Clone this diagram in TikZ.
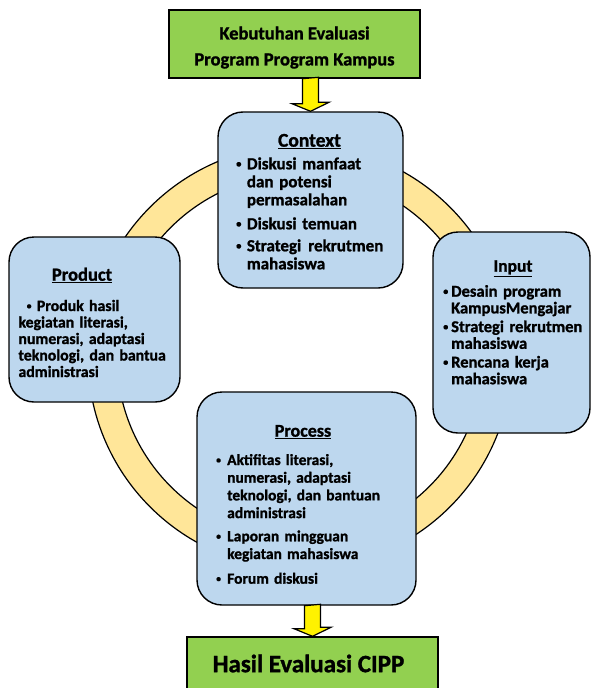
\documentclass[tikz,border=0pt]{standalone}
\usepackage{fontspec}
\usepackage{graphicx}
\setmainfont{Carlito}[BoldFeatures={FakeBold=1.2}]
\usetikzlibrary{calc}

\definecolor{biru}{HTML}{BDD7EE}
\definecolor{hijaumuda}{HTML}{92D050}
\definecolor{oranye}{HTML}{FFE699}

\newcommand{\poin}[1]{\makebox[#1][l]{\raisebox{0.12em}{\scalebox{0.62}{\textbullet}}}}

\begin{document}
\begin{tikzpicture}[x=1pt,y=-1pt,
    kotak/.style={draw=black, line width=1.4pt, fill=biru, rounded corners=25pt, inner sep=0pt},
    hijau/.style={draw=black, line width=1.4pt, fill=hijaumuda, align=center},
    judul/.style={anchor=base, inner sep=0pt},
    isi/.style={anchor=base west, inner sep=0pt, text width=200pt, align=left},
    panah/.style={draw=black, line width=1.2pt, fill=yellow, line join=miter}]
    \useasboundingbox (0,0) rectangle (591,688);

    % lingkaran siklus
    \path[draw=black, line width=1.2pt, fill=oranye, even odd rule]
        (300,357) circle [radius=212pt] circle [radius=183pt];

    % kotak hijau
    \node[hijau, minimum width=251, minimum height=68, font=\bfseries\fontsize{18.5}{26}\selectfont] (kebutuhan) at (294.5,44) {\rule{0pt}{20pt}Kebutuhan Evaluasi\\Program Program Kampus};
    \node[hijau, minimum width=251, minimum height=53, font=\bfseries\fontsize{25}{28}\selectfont] (hasil) at (312.5,663.5) {\hspace*{-8pt}Hasil Evaluasi CIPP};

    % kotak biru
    \node[kotak, minimum width=185, minimum height=176] (context) at (310.5,200) {};
    \node[kotak, minimum width=171, minimum height=165] (product) at (94.5,319.5) {};
    \node[kotak, minimum width=157, minimum height=201] (input) at (511.5,332.5) {};
    \node[kotak, minimum width=219, minimum height=213] (process) at (306.5,498.5) {};

    % panah
    \draw[panah] ($(kebutuhan.south -| context.north)+(-8,0)$) -- ++(0,25) -- ++(-10.5,0)
        -- (context.north) -- ++(18.5,-9) -- ++(-10.5,0) -- ++(0,-25) -- cycle;
    \draw[panah] ($(process.south -| hasil.north)+(-8,0)$) -- ++(0,23) -- ++(-10.5,0)
        -- (hasil.north) -- ++(18.5,-9) -- ++(-10.5,0) -- ++(0,-23) -- cycle;

    % Context
    \node[judul, font=\bfseries\fontsize{19.5}{22}\selectfont] (jcontext) at (309.5,146.7) {\underline{Context}};
    \node[isi, font=\bfseries\fontsize{17}{18}\selectfont] (icontext) at (236,169.3) {%
        \poin{10.7pt}Diskusi manfaat\\
        \hspace*{10.7pt}dan potensi\\
        \hspace*{10.7pt}permasalahan\\[6pt]
        \poin{10.7pt}Diskusi temuan\\[4pt]
        \poin{10.7pt}Strategi\hspace{7pt}rekrutmen\\
        \hspace*{10.7pt}mahasiswa};

    % Product
    \node[judul, font=\bfseries\fontsize{18.5}{20}\selectfont] (jproduct) at (82,280.7) {\underline{Product}};
    \node[isi, font=\bfseries\fontsize{15.8}{16.5}\selectfont] (iproduct) at (18.3,311) {%
        \hspace*{8.2pt}\poin{10.2pt}Produk hasil\\
        kegiatan literasi,\\
        numerasi, adaptasi\\
        teknologi, dan bantua\\
        administrasi};

    % Input
    \node[judul, font=\bfseries\fontsize{17.5}{20}\selectfont] (jinput) at (513,271.7) {\underline{Input}};
    \node[isi, font=\bfseries\fontsize{16.5}{16.7}\selectfont] (iinput) at (443,296.7) {%
        \poin{8pt}Desain program\\
        \hspace*{8pt}KampusMengajar\\[2pt]
        \poin{8pt}Strategi rekrutmen\\
        \hspace*{8pt}mahasiswa\\[2pt]
        \poin{8pt}Rencana kerja\\
        \hspace*{8pt}mahasiswa};

    % Process
    \node[judul, font=\bfseries\fontsize{18}{20}\selectfont] (jprocess) at (303,436.7) {\underline{Process}};
    \node[isi, font=\bfseries\fontsize{15.5}{17.7}\selectfont] (iprocess) at (216,465) {%
        \poin{11pt}Aktifitas literasi,\\
        \hspace*{11pt}numerasi, adaptasi\\
        \hspace*{11pt}teknologi, dan bantuan\\
        \hspace*{11pt}administrasi\\[5.5pt]
        \poin{11pt}Laporan mingguan\\
        \hspace*{11pt}kegiatan mahasiswa\\[7pt]
        \poin{11pt}Forum diskusi};
\end{tikzpicture}
\end{document}
